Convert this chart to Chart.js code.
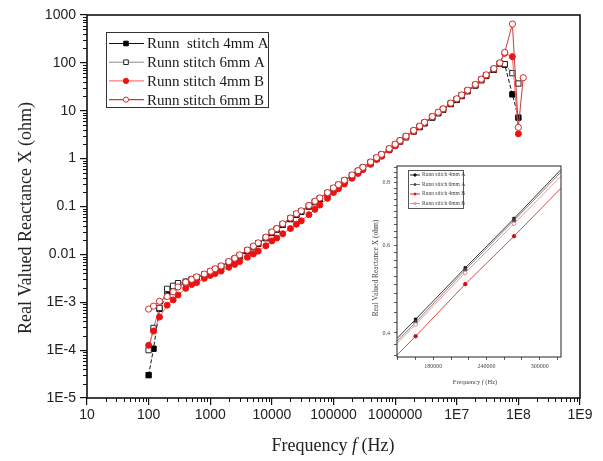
<!DOCTYPE html>
<html>
<head>
<meta charset="utf-8">
<script src="https://cdn.jsdelivr.net/npm/chart.js@4.4.0/dist/chart.umd.min.js"></script>
<style>
  body { margin: 0; background: #fff; }
  #wrap { position: relative; width: 603px; height: 461px; }
  #principal { position: absolute; left: 0; top: 0; }
  #inset { position: absolute; left: 362px; top: 158px; }
</style>
</head>
<body>
<div id="wrap">
  <canvas id="principal" width="603" height="461"></canvas>
  <canvas id="inset" width="208" height="240"></canvas>
</div>
<script>
// datos
const frecuencias = [
  100, 120, 150, 200, 250, 300, 400, 500, 600, 800,
  1000, 1200, 1500, 2000, 2500, 3000, 4000, 5000, 6000, 8000,
  10000, 12000, 15000, 20000, 25000, 30000, 40000, 50000, 60000, 80000,
  100000, 120000, 150000, 200000, 250000, 300000, 400000, 500000, 600000, 800000,
  1000000, 1200000, 1500000, 2000000, 2500000, 3000000, 4000000, 5000000, 6000000, 8000000,
  10000000, 12000000, 15000000, 20000000, 25000000, 30000000, 40000000, 50000000, 60000000, 80000000,
  100000000, 120000000
];
const runn4mmA = [
  0.00003, 0.000107, 0.00073, 0.0014, 0.0019, 0.0023, 0.0026, 0.0029, 0.0033, 0.0037,
  0.00425, 0.00476, 0.00546, 0.00673, 0.0079, 0.00928, 0.0117, 0.0141, 0.0165, 0.0218,
  0.028, 0.033, 0.0415, 0.0546, 0.0673, 0.0772, 0.0998, 0.123, 0.143, 0.185,
  0.233, 0.274, 0.337, 0.434, 0.534, 0.628, 0.808, 0.998, 1.17, 1.54,
  1.90, 2.28, 2.80, 3.70, 4.55, 5.46, 7.21, 8.86, 10.5, 13.8,
  16.9, 20.3, 25.6, 33.7, 43.4, 53.4, 72.1, 97, 92, 22,
  7.2, null
];
const runn6mmA = [
  0.0001, 0.00029, 0.00076, 0.0019, 0.0022, 0.0025, 0.0027, 0.003, 0.0033, 0.0038,
  0.00438, 0.00491, 0.00564, 0.00694, 0.00815, 0.00957, 0.0121, 0.0145, 0.0171, 0.0224,
  0.0289, 0.034, 0.0428, 0.0564, 0.0694, 0.0797, 0.103, 0.126, 0.148, 0.191,
  0.24, 0.282, 0.348, 0.448, 0.551, 0.648, 0.834, 1.03, 1.21, 1.59,
  1.96, 2.35, 2.89, 3.81, 4.69, 5.64, 7.44, 9.14, 10.8, 14.2,
  17.4, 21.0, 26.4, 34.8, 44.8, 55.1, 74.4, 97, 94, 61,
  37, null
];
const runn4mmB = [
  0.000126, 0.00025, 0.00049, 0.00087, 0.00112, 0.00141, 0.00195, 0.00234, 0.00257, 0.00316,
  0.00363, 0.00398, 0.00447, 0.00537, 0.00617, 0.00708, 0.00871, 0.0102, 0.0117, 0.0151,
  0.0191, 0.0219, 0.0269, 0.0347, 0.0427, 0.0501, 0.0676, 0.0871, 0.107, 0.148,
  0.195, 0.234, 0.295, 0.389, 0.490, 0.589, 0.759, 0.955, 1.12, 1.51,
  1.86, 2.29, 2.82, 3.72, 4.68, 5.62, 7.41, 9.12, 10.7, 14.1,
  17.4, 20.9, 26.3, 34.7, 44.7, 55.0, 74.1, 97.7, 158, 135,
  3.3, null
];
const runn6mmB = [
  0.00072, 0.00083, 0.00105, 0.00132, 0.00166, 0.00209, 0.00263, 0.00302, 0.00339, 0.00389,
  0.00447, 0.00501, 0.00575, 0.00708, 0.00832, 0.00977, 0.0123, 0.0148, 0.0174, 0.0229,
  0.0295, 0.0347, 0.0437, 0.0575, 0.0708, 0.0813, 0.105, 0.129, 0.151, 0.195,
  0.245, 0.288, 0.355, 0.457, 0.562, 0.661, 0.851, 1.05, 1.23, 1.62,
  2.00, 2.40, 2.95, 3.89, 4.79, 5.75, 7.59, 9.33, 11.0, 14.5,
  17.8, 21.4, 26.9, 35.5, 45.7, 56.2, 75.9, 100, 166, 646,
  4.5, 49
];
const nombres = ['Runn  stitch 4mm A', 'Runn stitch 6mm A', 'Runn stitch 4mm B', 'Runn stitch 6mm B'];
const xTickLabels = ['10', '100', '1000', '10000', '100000', '1000000', '1E7', '1E8', '1E9'];
const yTickLabels = ['1E-5', '1E-4', '1E-3', '0.01', '0.1', '1', '10', '100', '1000'];

// inset (zoom lineal)
const insetFrecuencias = [139000, 160000, 216000, 271000, 324000];
const inset4mmA = [0.39, 0.426, 0.54, 0.678, 0.85];
const inset6mmA = [0.385, 0.42, 0.535, 0.672, 0.84];
const inset4mmB = [0.361, 0.394, 0.501, 0.625, 0.78];
const inset6mmB = [0.381, 0.416, 0.528, 0.662, 0.824];
const insetXTickLabels = ['180000', '240000', '300000'];
const insetYTickLabels = ['0.4', '0.6', '0.8'];

// estilos
const estilos = [
  { linea: '#111', borde: '#000', relleno: '#000', forma: 'rect', radio: 3.8, dash: [4, 2] },
  { linea: '#8a8a8a', borde: '#222', relleno: '#fff', forma: 'rect', radio: 3.8, dash: [] },
  { linea: '#ff5a5a', borde: '#ee1111', relleno: '#ee1111', forma: 'circle', radio: 3.0, dash: [] },
  { linea: '#c83a3a', borde: '#d42a2a', relleno: '#fff', forma: 'circle', radio: 3.1, dash: [] }
];
const series = [runn4mmA, runn6mmA, runn4mmB, runn6mmB];
const orden = [3, 2, 1, 0];

function marcador(ctx, e, x, y, r) {
  ctx.fillStyle = e.relleno;
  ctx.strokeStyle = e.borde;
  ctx.lineWidth = 1;
  ctx.beginPath();
  if (e.forma === 'rect') {
    ctx.rect(x - r, y - r, 2 * r, 2 * r);
  } else {
    ctx.arc(x, y, r, 0, Math.PI * 2);
  }
  ctx.fill();
  ctx.stroke();
}

function tituloFrecuencia(ctx, cx, cy, size) {
  const partes = [['Frequency ', ''], ['f', 'italic '], [' (Hz)', '']];
  let total = 0;
  partes.forEach(p => {
    ctx.font = p[1] + size + 'px "Liberation Serif"';
    total += ctx.measureText(p[0]).width;
  });
  let x = cx - total / 2;
  ctx.textAlign = 'left';
  ctx.textBaseline = 'middle';
  partes.forEach(p => {
    ctx.font = p[1] + size + 'px "Liberation Serif"';
    ctx.fillText(p[0], x, cy);
    x += ctx.measureText(p[0]).width;
  });
}

// marco, ticks menores, titulos y leyenda
const decorado = {
  id: 'decorado',
  afterDraw(chart) {
    const ctx = chart.ctx;
    const a = chart.chartArea;
    const xs = chart.scales.x;
    const ys = chart.scales.y;
    ctx.save();
    ctx.strokeStyle = '#111';
    ctx.lineWidth = 1;
    // ticks menores
    for (let k = 1; k < 9; k++) {
      for (let m = 2; m <= 9; m++) {
        const px = Math.round(xs.getPixelForValue(m * Math.pow(10, k))) + 0.5;
        ctx.beginPath(); ctx.moveTo(px, a.bottom); ctx.lineTo(px, a.bottom + 4); ctx.stroke();
      }
    }
    for (let k = -5; k < 3; k++) {
      for (let m = 2; m <= 9; m++) {
        const py = Math.round(ys.getPixelForValue(m * Math.pow(10, k))) + 0.5;
        ctx.beginPath(); ctx.moveTo(a.left - 4, py); ctx.lineTo(a.left, py); ctx.stroke();
      }
    }
    // marco
    ctx.lineWidth = 1.6;
    ctx.strokeRect(a.left, a.top, a.right - a.left, a.bottom - a.top);

    // titulos
    ctx.fillStyle = '#222';
    tituloFrecuencia(ctx, 333, 446, 18);
    ctx.save();
    ctx.translate(26, 218);
    ctx.rotate(-Math.PI / 2);
    ctx.font = '18px "Liberation Serif"';
    ctx.textAlign = 'center';
    ctx.textBaseline = 'middle';
    ctx.fillText('Real Valued Reactance X (ohm)', 0, 0);
    ctx.restore();

    // leyenda
    const x0 = 106, y0 = 32, w = 162, h = 75;
    ctx.fillStyle = '#fff';
    ctx.fillRect(x0, y0, w, h);
    ctx.strokeStyle = '#333';
    ctx.lineWidth = 1;
    ctx.strokeRect(x0 + 0.5, y0 + 0.5, w, h);
    nombres.forEach((n, i) => {
      const e = estilos[i];
      const y = y0 + 11.5 + i * 18.7;
      ctx.strokeStyle = e.linea;
      ctx.lineWidth = i === 3 ? 1.3 : 1;
      ctx.beginPath(); ctx.moveTo(x0 + 3, y); ctx.lineTo(x0 + 38, y); ctx.stroke();
      marcador(ctx, e, x0 + 20, y, e.forma === 'rect' ? 2.3 : 2.6);
      ctx.fillStyle = '#1a1a1a';
      ctx.font = '15px "Liberation Serif"';
      ctx.textAlign = 'left';
      ctx.textBaseline = 'middle';
      ctx.fillText(n, x0 + 41, y + 1);
    });
    ctx.restore();
  }
};

new Chart(document.getElementById('principal'), {
  type: 'line',
  data: {
    labels: frecuencias,
    datasets: series.map((s, i) => ({
      label: nombres[i],
      data: s,
      order: orden[i],
      borderColor: estilos[i].linea,
      borderWidth: 1,
      borderDash: estilos[i].dash,
      pointStyle: estilos[i].forma,
      pointRadius: estilos[i].radio,
      pointBackgroundColor: estilos[i].relleno,
      pointBorderColor: estilos[i].borde,
      pointBorderWidth: 1,
      tension: 0,
      fill: false,
      spanGaps: false
    }))
  },
  options: {
    responsive: false,
    animation: false,
    devicePixelRatio: 1,
    layout: { padding: { top: 15, right: 23, left: 0, bottom: 0 } },
    plugins: { legend: { display: false }, tooltip: { enabled: false } },
    scales: {
      x: {
        type: 'logarithmic',
        min: 10,
        max: 1e9,
        afterBuildTicks: s => { s.ticks = xTickLabels.map(t => ({ value: Number(t) })); },
        afterFit: s => { s.height = 63; },
        border: { display: false },
        grid: { drawOnChartArea: false, drawTicks: true, tickLength: 7, color: '#111', lineWidth: 1.2 },
        ticks: {
          autoSkip: false, maxRotation: 0, padding: 2, color: '#222',
          font: { family: 'Liberation Sans', size: 14 },
          callback: (v, i) => xTickLabels[i]
        }
      },
      y: {
        type: 'logarithmic',
        min: 1e-5,
        max: 1000,
        afterBuildTicks: s => { s.ticks = yTickLabels.map(t => ({ value: Number(t) })); },
        afterFit: s => { s.width = 87; },
        border: { display: false },
        grid: { drawOnChartArea: false, drawTicks: true, tickLength: 7, color: '#111', lineWidth: 1.2 },
        ticks: {
          autoSkip: false, padding: 4, color: '#222',
          font: { family: 'Liberation Sans', size: 14 },
          callback: (v, i) => yTickLabels[i]
        }
      }
    }
  },
  plugins: [decorado]
});

// grafico interior
const estilosInset = [
  { linea: '#222', borde: '#111', relleno: '#111', forma: 'rect' },
  { linea: '#777', borde: '#444', relleno: '#444', forma: 'circle' },
  { linea: '#e03030', borde: '#cc1111', relleno: '#cc1111', forma: 'circle' },
  { linea: '#f08a8a', borde: '#e07070', relleno: '#fff', forma: 'circle' }
];
const seriesInset = [inset4mmA, inset6mmA, inset4mmB, inset6mmB];

const decoradoInset = {
  id: 'decoradoInset',
  afterDraw(chart) {
    const ctx = chart.ctx;
    const a = chart.chartArea;
    ctx.save();
    ctx.strokeStyle = '#222';
    ctx.lineWidth = 1;
    ctx.strokeRect(a.left, a.top, a.right - a.left, a.bottom - a.top);
    ctx.fillStyle = '#444';
    tituloFrecuencia(ctx, 113, 224, 6.5);
    ctx.save();
    ctx.translate(14, 110);
    ctx.rotate(-Math.PI / 2);
    ctx.font = '7.5px "Liberation Serif"';
    ctx.textAlign = 'center';
    ctx.textBaseline = 'middle';
    ctx.fillText('Real Valued Reactance X (ohm)', 0, 0);
    ctx.restore();
    // leyenda interior
    const x0 = 46, y0 = 12, w = 55, h = 38;
    ctx.fillStyle = '#fff';
    ctx.fillRect(x0, y0, w, h);
    ctx.strokeStyle = '#555';
    ctx.strokeRect(x0 + 0.5, y0 + 0.5, w, h);
    nombres.forEach((n, i) => {
      const e = estilosInset[i];
      const y = y0 + 5 + i * 9.5;
      ctx.strokeStyle = e.linea;
      ctx.beginPath(); ctx.moveTo(x0 + 2, y); ctx.lineTo(x0 + 12, y); ctx.stroke();
      marcador(ctx, e, x0 + 7, y, 1);
      ctx.fillStyle = '#444';
      ctx.font = '5.5px "Liberation Serif"';
      ctx.textAlign = 'left';
      ctx.textBaseline = 'middle';
      ctx.fillText(n.replace('  ', ' '), x0 + 14, y);
    });
    ctx.restore();
  }
};

new Chart(document.getElementById('inset'), {
  type: 'line',
  data: {
    labels: insetFrecuencias,
    datasets: seriesInset.map((s, i) => ({
      data: s,
      order: orden[i],
      borderColor: estilosInset[i].linea,
      borderWidth: 0.9,
      pointStyle: estilosInset[i].forma,
      pointRadius: [0, 1.8, 1.8, 1.8, 0],
      pointBackgroundColor: estilosInset[i].relleno,
      pointBorderColor: estilosInset[i].borde,
      pointBorderWidth: 0.8,
      tension: 0,
      fill: false
    }))
  },
  options: {
    responsive: false,
    animation: false,
    devicePixelRatio: 1,
    layout: { padding: { top: 8, right: 9, left: 0, bottom: 0 } },
    plugins: { legend: { display: false }, tooltip: { enabled: false } },
    scales: {
      x: {
        type: 'linear',
        min: 139000,
        max: 324000,
        afterBuildTicks: s => {
          const t = [];
          for (let v = 140000; v <= 320000; v += 20000) t.push({ value: v });
          s.ticks = t;
        },
        afterFit: s => { s.height = 41; },
        border: { display: false },
        grid: { drawOnChartArea: false, tickLength: 3, color: '#333', lineWidth: 0.8 },
        ticks: {
          autoSkip: false, maxRotation: 0, padding: 3, color: '#444',
          font: { family: 'Liberation Serif', size: 6 },
          callback: v => insetXTickLabels.includes(String(v)) ? String(v) : ''
        }
      },
      y: {
        type: 'logarithmic',
        min: 0.358,
        max: 0.864,
        afterBuildTicks: s => {
          const t = [];
          for (let v = 36; v <= 86; v += 2) t.push({ value: v / 100 });
          s.ticks = t;
        },
        afterFit: s => { s.width = 35; },
        border: { display: false },
        grid: { drawOnChartArea: false, tickLength: 3, color: '#333', lineWidth: 0.8 },
        ticks: {
          autoSkip: false, padding: 4, color: '#444',
          font: { family: 'Liberation Serif', size: 6 },
          callback: v => insetYTickLabels.includes(String(v)) ? String(v) : ''
        }
      }
    }
  },
  plugins: [decoradoInset]
});
</script>
</body>
</html>
